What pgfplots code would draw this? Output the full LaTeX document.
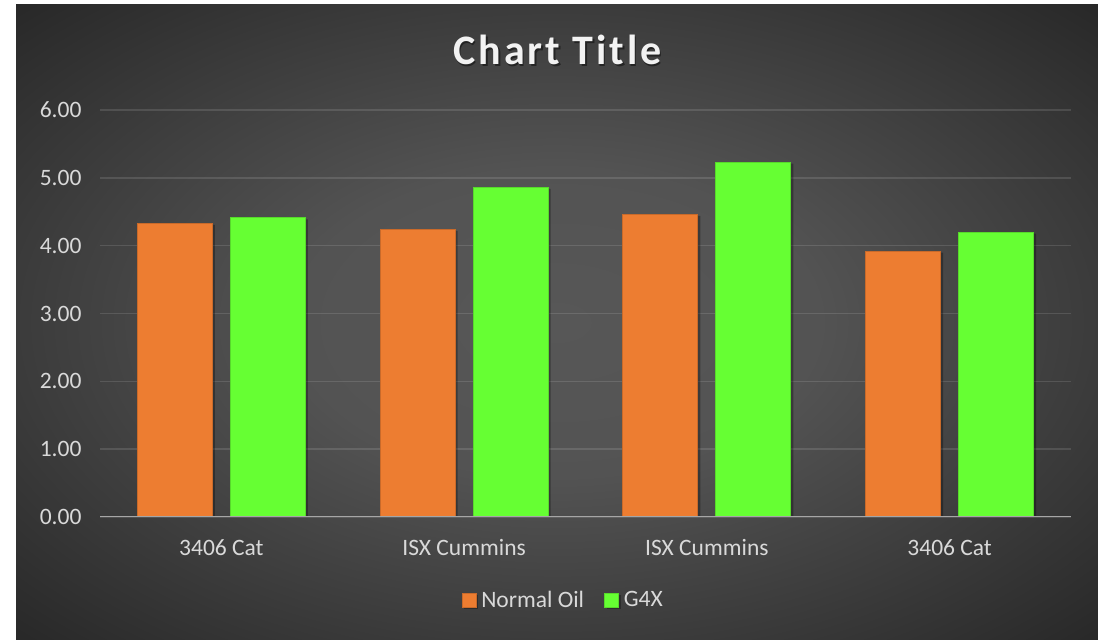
\documentclass[border=0pt]{standalone}
\usepackage{fontspec}
\setmainfont{Carlito}
\usepackage{pgfplots}
\pgfplotsset{compat=1.18}
\definecolor{bgin}{HTML}{575757}
\definecolor{bgout}{HTML}{272727}
\definecolor{oilorange}{HTML}{ED7D31}
\definecolor{gfourx}{HTML}{66FF33}
\definecolor{txt}{HTML}{D9D9D9}
\pgfdeclareradialshading{chartbg}{\pgfpoint{0bp}{0bp}}{%
  color(0bp)=(bgin); color(12bp)=(bgin!92!bgout); color(36bp)=(bgout); color(50bp)=(bgout)}

\begin{document}
\begin{tikzpicture}
\useasboundingbox (0,0) rectangle (1098bp,640bp);
\fill[white] (0,0) rectangle (1098bp,640bp);
\shade[shading=chartbg] (16bp,0) rectangle (1098bp,635bp);

% title with a soft shadow
\node[anchor=base, text=black, opacity=0.45, font=\fontsize{42bp}{48bp}\selectfont\bfseries\addfontfeatures{LetterSpace=7}]
  at (559bp,573.5bp) {Chart Title};
\node[anchor=base, text=white!95!black, font=\fontsize{42bp}{48bp}\selectfont\bfseries\addfontfeatures{LetterSpace=7}]
  at (557.5bp,575bp) {Chart Title};

\begin{axis}[
  at={(100bp,123bp)}, anchor=south west,
  scale only axis,
  width=971bp, height=407bp,
  ybar=18bp, bar width=75bp,
  xmin=-0.5, xmax=3.5,
  ymin=0, ymax=6,
  xtick=data,
  xticklabels={3406 Cat, ISX Cummins, ISX Cummins, 3406 Cat},
  ytick={0,1,2,3,4,5,6},
  axis line style={draw=none},
  major tick length=0pt,
  ymajorgrids,
  grid style={white, opacity=0.12, line width=1.5bp},
  font=\fontsize{23.5bp}{28bp}\selectfont,
  tick label style={text=txt},
  yticklabel style={xshift=-15bp},
  xticklabel style={yshift=-19bp},
  /pgf/number format/assume math mode=true,
  yticklabel style={/pgf/number format/.cd, fixed, fixed zerofill, precision=2},
  legend columns=2,
  legend style={at={(0.477,-0.204)}, anchor=center, draw=none, fill=none,
    text=txt, font=\fontsize{23.5bp}{28bp}\selectfont,
    /tikz/every odd column/.append style={column sep=3bp},
    /tikz/every even column/.append style={column sep=18bp}},
  legend image code/.code={\fill[#1] (0bp,-7bp) rectangle (14bp,7bp);},
  every axis plot/.append style={
    preaction={fill=black, fill opacity=0.3, draw=none,
      transform canvas={shift={(2.5bp,-1.5bp)}}}},
]
\addplot[fill=oilorange, draw=oilorange!85!black, line width=0.8bp]
  coordinates {(0,4.33) (1,4.24) (2,4.46) (3,3.92)};
\addlegendentry{Normal Oil}
\addplot[fill=gfourx, draw=gfourx!85!black, line width=0.8bp]
  coordinates {(0,4.41) (1,4.86) (2,5.23) (3,4.20)};
\addlegendentry{G4X}
\draw[color=white!65!black, line width=2bp] (axis cs:-0.5,0) -- (axis cs:3.5,0);
\end{axis}
\end{tikzpicture}
\end{document}
